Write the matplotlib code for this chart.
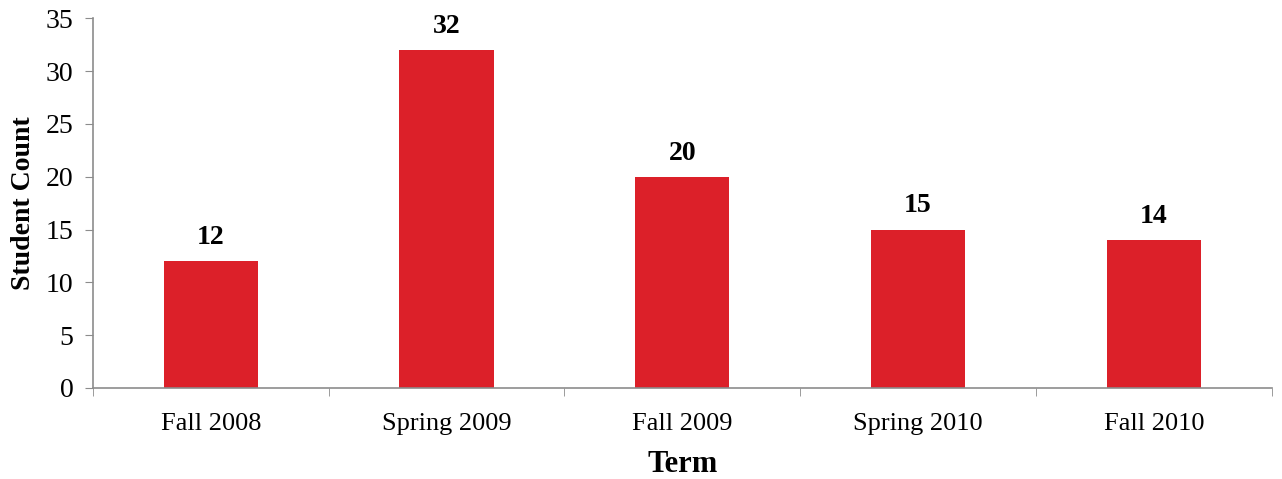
import numpy as np
import matplotlib.pyplot as plt

plt.rcParams["font.family"] = ["Liberation Serif", "DejaVu Serif"]

# --- data ---
terms = ["Fall 2008", "Spring 2009", "Fall 2009", "Spring 2010", "Fall 2010"]
counts = [12, 32, 20, 15, 14]

BAR_COLOR = "#DC2029"
AXIS_COLOR = "#8C8C8C"

fig = plt.figure(figsize=(12.82, 4.79), dpi=100)
ax = fig.add_axes([0.0725, 0.19, 0.9195, 0.772])

x = np.arange(len(terms))
bars = ax.bar(x, counts, width=0.4, color=BAR_COLOR)
ax.bar_label(bars, padding=8, fontsize=20, fontweight="bold")

ax.set_xlim(-0.5, len(terms) - 0.5)
ax.set_ylim(0, 35)
ax.set_yticks(range(0, 36, 5))
ax.tick_params(axis="y", labelsize=20, length=6, color=AXIS_COLOR, direction="out", pad=8)

# category labels centred, ticks between categories
ax.set_xticks(x)
ax.set_xticklabels(terms, fontsize=19)
ax.tick_params(axis="x", which="major", length=0, pad=18)
ax.set_xticks(np.arange(-0.5, len(terms)), minor=True)
ax.tick_params(axis="x", which="minor", length=6, color=AXIS_COLOR, direction="out")

for side in ["top", "right"]:
    ax.spines[side].set_visible(False)
for side in ["left", "bottom"]:
    ax.spines[side].set_color(AXIS_COLOR)
    ax.spines[side].set_linewidth(1.2)

ax.set_xlabel("Term", fontsize=22, fontweight="bold", labelpad=11)
ax.set_ylabel("Student Count", fontsize=20, fontweight="bold", labelpad=7)

fig.savefig("out.png", dpi=100)
